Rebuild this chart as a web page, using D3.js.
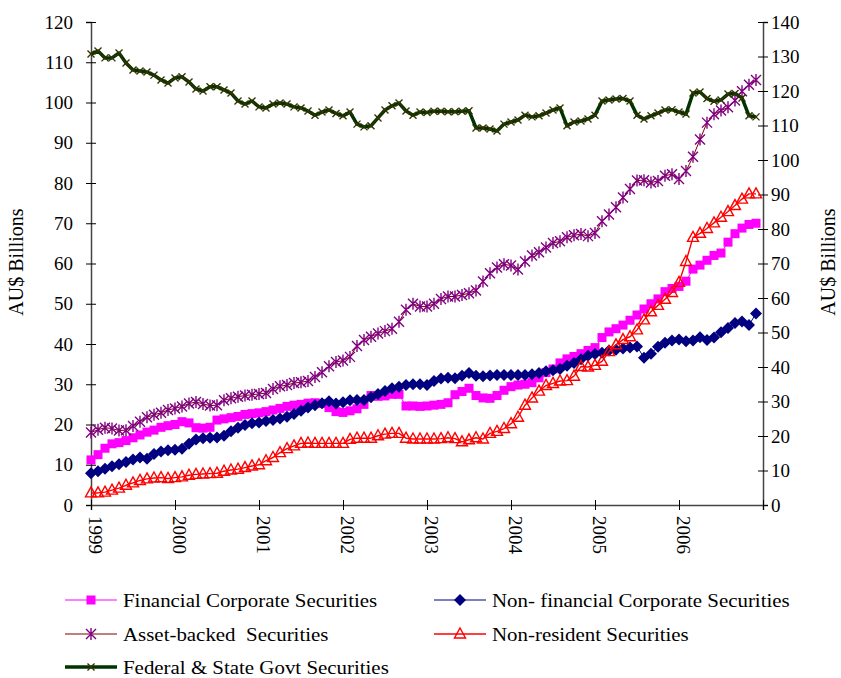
<!DOCTYPE html>
<html>
<head>
<meta charset="utf-8">
<script src="https://cdnjs.cloudflare.com/ajax/libs/d3/7.8.5/d3.min.js"></script>
<style>
  body { margin: 0; background: #fff; }
  svg text { font-family: "Liberation Serif", "Times New Roman", serif; fill: #000; }
</style>
</head>
<body>
<div id="chart"></div>
<script>
// monthly observations, Jan 1999 .. Dec 2006
var years = ["1999", "2000", "2001", "2002", "2003", "2004", "2005", "2006"];

var finCorp = [11.2, 12.5, 14.1, 15.2, 15.5, 16, 16.7, 17.4, 18.1, 18.6, 19.3, 19.7,
  20, 20.7, 20.4, 19.2, 19.1, 19.3, 21.1, 21.4, 21.7, 22, 22.5, 22.7,
  22.9, 23.2, 23.6, 24, 24.5, 24.8, 25, 25.3, 25.4, 25.2, 24.2, 23.2,
  23, 23.4, 23.9, 25, 27.2, 27, 27.1, 27.5, 27.5, 24.6, 24.6, 24.5,
  24.6, 24.8, 25, 25.4, 27.4, 28.2, 29, 27.2, 26.6, 26.5, 27.2, 28.5,
  29.4, 29.8, 30, 30.4, 31.6, 32.9, 33.8, 35.3, 36.3, 36.9, 37.6, 38.4,
  39.1, 41.6, 43, 43.8, 44.7, 45.9, 47.2, 48.7, 50, 51.2, 53, 53.8,
  54.3, 55.6, 58.6, 59.6, 60.8, 62, 62.6, 65.3, 67.4, 68.8, 69.7, 70];

var nonFinCorp = [7.9, 8.4, 9, 9.6, 10.1, 10.7, 11.3, 11.8, 11.5, 12.7, 13.3, 13.6,
  13.7, 14, 15.2, 16.3, 16.6, 16.7, 16.8, 17.2, 18.3, 19.2, 19.9, 20.3,
  20.5, 20.9, 21.1, 21.5, 21.9, 22.6, 23.4, 24.2, 24.8, 25.3, 25.8, 25.2,
  25.5, 26, 26.1, 26.1, 26.8, 27.6, 28.3, 29, 29.4, 29.8, 30, 30,
  29.8, 30.8, 31.4, 31.6, 31.5, 32.1, 32.8, 32.1, 32, 32.2, 32.3, 32.3,
  32.3, 32.3, 32.3, 32.5, 32.8, 33.2, 33.5, 33.8, 34.6, 35.3, 36.2, 37.1,
  37.5, 37.8, 38.4, 38.6, 38.9, 39.1, 39.4, 36.6, 37.6, 39.3, 40.3, 40.9,
  41.1, 40.7, 40.9, 41.7, 41, 41.6, 42.9, 44, 45.2, 45.6, 44.7, 47.6];

var assetBacked = [18, 18.7, 19.2, 19, 18.5, 18.6, 19.6, 20.7, 21.8, 22.4, 22.9, 23.6,
  24, 24.5, 25.2, 25.6, 25.1, 24.7, 24.8, 26, 26.5, 26.9, 27.2, 27.4,
  27.6, 27.8, 28.8, 29.5, 29.8, 30.3, 30.5, 30.8, 31.8, 33, 34.5, 35.5,
  35.9, 36.8, 39.5, 41, 41.8, 42.6, 43.2, 43.8, 45.5, 48.5, 50, 49.3,
  49.3, 50, 51.2, 51.8, 51.8, 52.2, 52.6, 53.3, 55.5, 57.6, 59, 59.8,
  59.5, 58.5, 60.5, 62, 62.8, 64, 65.1, 65.5, 66.5, 67, 67.3, 66.8,
  67.6, 70.5, 72.2, 74, 76.4, 78.5, 80.6, 80.7, 80.1, 80.5, 81.8, 82.2,
  81, 83, 86.5, 90.8, 95, 97.1, 98, 98.8, 100.5, 102.8, 104.4, 105.6];

var nonResident = [3, 3, 3.2, 3.7, 4.2, 4.9, 5.5, 6.1, 6.5, 6.7, 6.8, 6.6,
  6.8, 7, 7.4, 7.6, 7.7, 7.8, 7.9, 8.4, 8.7, 8.9, 9.3, 9.7,
  10, 11, 11.8, 13, 14, 14.7, 15.3, 15.4, 15.3, 15.3, 15.3, 15.3,
  15.3, 16.3, 16.6, 16.6, 16.6, 17.2, 17.6, 17.8, 17.8, 16.6, 16.4, 16.4,
  16.4, 16.4, 16.5, 16.7, 16.5, 15.7, 16.2, 16.7, 16.4, 17.8, 18.3, 19,
  20.2, 21.8, 24.8, 26.6, 28.3, 29.7, 30.2, 30.8, 30.9, 32, 34.4, 34.3,
  34.7, 35.7, 38.1, 39.8, 41.1, 41.8, 43.5, 46, 48, 49.6, 51.1, 52.8,
  55.3, 60.5, 66.5, 67.5, 68.7, 70.1, 71.5, 72.9, 74.4, 76, 77.3, 77.3];

// right-hand axis
var govt = [130.7, 131.6, 129.6, 129.6, 131, 128.1, 126.1, 125.8, 125.5, 124.6, 123.2, 122.3,
  123.8, 124.1, 122.6, 120.6, 120, 121.2, 121.2, 120.3, 119.4, 117.1, 116.2, 117.1,
  115.4, 115.1, 116.2, 116.5, 116.2, 115.4, 115.1, 114.2, 113, 113.9, 114.5, 113.5,
  112.8, 113.9, 110.4, 109.6, 109.9, 112.2, 114.5, 115.7, 116.5, 114.2, 113, 113.9,
  113.8, 114.1, 114.1, 114, 114, 114.1, 114.3, 109.3, 109.3, 109, 108.4, 110.4,
  111, 111.6, 113, 112.5, 112.8, 113.6, 114.5, 115.1, 109.9, 111, 111.3, 111.9,
  113, 117.1, 117.4, 117.7, 117.8, 117.1, 113, 111.9, 112.8, 113.6, 114.5, 114.6,
  113.9, 113.3, 119.4, 119.7, 117.8, 117, 117.4, 119.1, 119.3, 118, 112.8, 112.5];

var seriesNames = ["Financial Corporate Securities", "Non- financial Corporate Securities",
  "Asset-backed  Securities", "Non-resident Securities", "Federal & State Govt Securities"];

var W = 841, H = 678;
var svg = d3.select("#chart").append("svg")
  .attr("width", W)
  .attr("height", H);

var x = d3.scaleLinear().domain([0, 96]).range([91, 763]);
var yL = d3.scaleLinear().domain([0, 120]).range([505, 22]);
var yR = d3.scaleLinear().domain([0, 140]).range([505, 22]);

// axes - ticks cross the axis line like in excel
var gL = svg.append("g").attr("transform", "translate(91,0)")
  .call(d3.axisLeft(yL).tickValues(d3.range(0, 121, 10)).tickSize(5).tickPadding(13));
gL.selectAll(".tick line").attr("x1", 5);
var gR = svg.append("g").attr("transform", "translate(763,0)")
  .call(d3.axisRight(yR).tickValues(d3.range(0, 141, 10)).tickSize(5).tickPadding(3));
gR.selectAll(".tick line").attr("x1", -5);
var gX = svg.append("g").attr("transform", "translate(0,505)")
  .call(d3.axisBottom(x).tickValues(d3.range(0, 97, 12)).tickSize(5)
    .tickFormat(function(d, i) { return years[i] || ""; }));
gX.selectAll(".tick line").attr("y1", -5);

[gL, gR, gX].forEach(function(g) {
  g.select(".domain").attr("stroke", "#444").attr("stroke-width", 1.5);
  g.selectAll(".tick line").attr("stroke", "#000");
  g.selectAll("text").style("font-size", "19px").style("font-family", "Liberation Serif");
});

gX.selectAll(".tick text")
  .attr("transform", "rotate(90)")
  .attr("x", 11)
  .attr("y", -4)
  .attr("dy", "0.35em")
  .style("text-anchor", "start");

svg.append("text")
  .attr("transform", "translate(16,262) rotate(-90)")
  .attr("text-anchor", "middle")
  .attr("dy", "0.35em")
  .style("font-size", "20px")
  .text("AU$ Billions");
svg.append("text")
  .attr("transform", "translate(829,262) rotate(-90)")
  .attr("text-anchor", "middle")
  .attr("dy", "0.3em")
  .style("font-size", "20px")
  .text("AU$ Billions");

// marker shapes
var markers = {
  square: function(g, c) {
    g.append("rect").attr("x", -4.5).attr("y", -4.5).attr("width", 9).attr("height", 9).attr("fill", c);
  },
  diamond: function(g, c) {
    g.append("path").attr("d", "M0,-6L6,0L0,6L-6,0Z").attr("fill", c);
  },
  star: function(g, c) {
    g.append("path").attr("d", "M-5,-5L5,5M-5,5L5,-5M0,-6L0,6")
      .attr("stroke", c).attr("stroke-width", 1.4).attr("fill", "none");
  },
  triangle: function(g, c) {
    g.append("path").attr("d", "M0,-6L5.5,4L-5.5,4Z")
      .attr("stroke", c).attr("stroke-width", 1.4).attr("fill", "none");
  },
  cross: function(g, c) {
    g.append("path").attr("d", "M-3.5,-3.5L3.5,3.5M-3.5,3.5L3.5,-3.5")
      .attr("stroke", c).attr("stroke-width", 1.4).attr("fill", "none");
  }
};

var series = [
  {name: seriesNames[0], values: finCorp, y: yL, line: "#ff00ff", lw: 1, marker: "square", mc: "#ff00ff"},
  {name: seriesNames[1], values: nonFinCorp, y: yL, line: "#000080", lw: 1, marker: "diamond", mc: "#000080"},
  {name: seriesNames[2], values: assetBacked, y: yL, line: "#800000", lw: 1, marker: "star", mc: "#800080"},
  {name: seriesNames[3], values: nonResident, y: yL, line: "#ff0000", lw: 1.4, marker: "triangle", mc: "#ff0000"},
  {name: seriesNames[4], values: govt, y: yR, line: "#003300", lw: 3.5, marker: "cross", mc: "#333300"}
];

series.forEach(function(s) {
  var line = d3.line()
    .x(function(d, i) { return x(i); })
    .y(function(d) { return s.y(d); });
  svg.append("path")
    .datum(s.values)
    .attr("d", line)
    .attr("fill", "none")
    .attr("stroke", s.line)
    .attr("stroke-width", s.lw)
    .attr("stroke-linejoin", "round");
  svg.append("g").selectAll("g")
    .data(s.values)
    .enter().append("g")
    .attr("transform", function(d, i) { return "translate(" + x(i) + "," + s.y(d) + ")"; })
    .each(function() { markers[s.marker](d3.select(this), s.mc); });
});

// legend
var legPos = [[65, 600], [434, 600], [65, 634], [434, 634], [65, 667]];
series.forEach(function(s, i) {
  var g = svg.append("g").attr("transform", "translate(" + legPos[i][0] + "," + legPos[i][1] + ")");
  g.append("line").attr("x1", 0).attr("x2", 52).attr("y1", 0).attr("y2", 0)
    .attr("stroke", s.line).attr("stroke-width", s.lw);
  markers[s.marker](g.append("g").attr("transform", "translate(26,0)"), s.mc);
  g.append("text")
    .attr("transform", "translate(58,0) scale(1.1,1)")
    .attr("dy", "0.35em")
    .style("font-size", "19px")
    .style("white-space", "pre")
    .text(s.name);
});
</script>
</body>
</html>
